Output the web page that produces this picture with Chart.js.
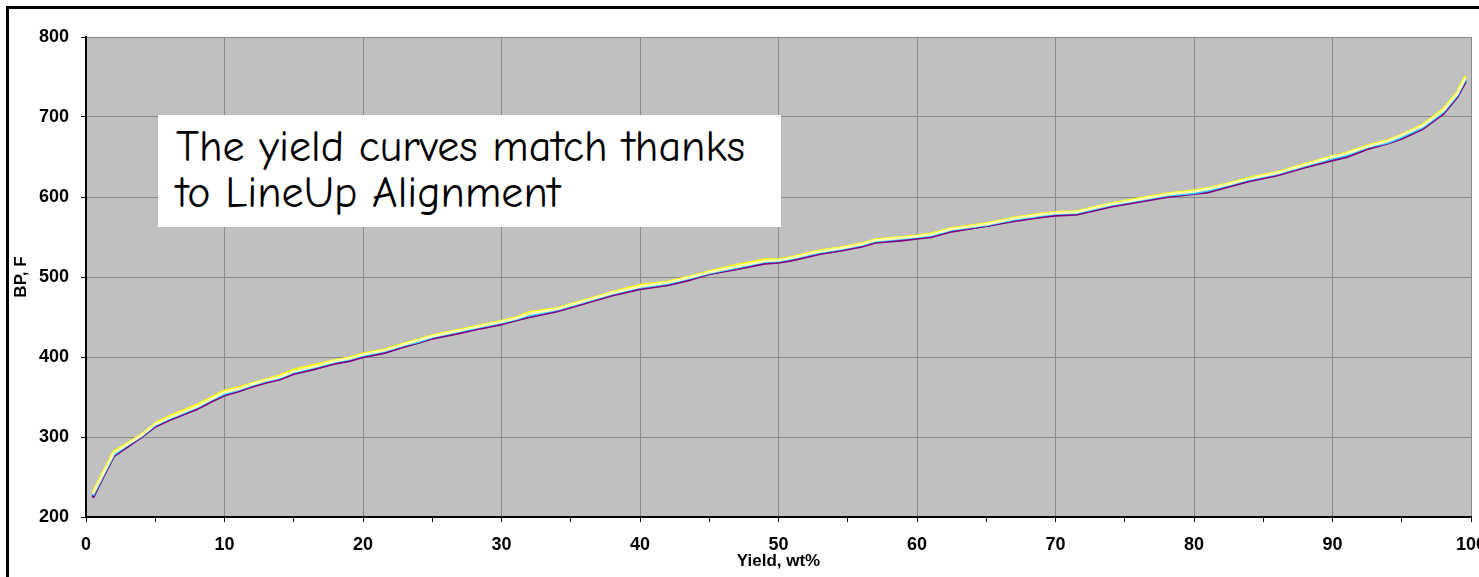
<!DOCTYPE html>
<html>
<head>
<meta charset="utf-8">
<title>BP vs Yield</title>
<script src="https://cdn.jsdelivr.net/npm/chart.js@4.4.1/dist/chart.umd.min.js"></script>
<style>
  html, body { margin: 0; padding: 0; background: #fff; }
  #wrap { position: relative; width: 1479px; height: 577px; overflow: hidden; }
  #frame {
    position: absolute; left: 6px; top: 6px; right: -10px; bottom: -10px;
    border-top: 3px solid #000; border-left: 3px solid #000; pointer-events: none;
  }
  #note {
    position: absolute; left: 158px; top: 115px; width: 623px; height: 112px;
    box-sizing: border-box; background: #fff; padding: 9px 0 0 18px;
    font-family: "Comic Sans MS", "Comic Neue", "Noto Sans", sans-serif;
    font-size: 44px; line-height: 46px; color: #000; white-space: nowrap;
  }
</style>
</head>
<body>
<div id="wrap">
  <canvas id="grafico" width="1479" height="577"></canvas>
  <div id="frame"></div>
  <div id="note">The yield curves match thanks<br>to LineUp Alignment</div>
</div>
<script>
// yield, wt% (shared x values of every curve)
const yieldPct = [0.5, 1, 2, 3, 4, 5, 6, 7, 8, 9,
  10, 11, 12, 13, 14, 15, 16.5, 18, 19, 20,
  21.5, 23, 24, 25, 27, 28, 30, 31, 32, 34,
  36, 38, 40, 42, 43.5, 45, 47, 49, 50, 51,
  53, 54.5, 56, 57, 59, 60, 61, 62.5, 65, 67,
  69, 70, 71.5, 73, 74, 76, 78, 80, 81, 82.5,
  84, 86, 88, 90, 91, 92.5, 94, 95, 96.5, 98,
  99, 99.6];

// boiling point, F
const bpPurple = [224, 242, 276, 288, 300, 313, 321, 328, 335, 344,
  352, 357, 363, 368, 372, 379, 385, 392, 395, 400,
  405, 413, 418, 423, 430, 434, 441, 446, 450, 457,
  467, 477, 485, 490, 496, 504, 510, 517, 518, 521,
  529, 533, 538, 543, 546, 548, 550, 557, 564, 570,
  575, 577, 578, 584, 588, 594, 600, 604, 606, 613,
  620, 627, 637, 646, 650, 660, 667, 673, 685, 704,
  725, 744];

const bpNavy = [225, 243, 277, 289, 300, 314, 322, 329, 336, 345,
  353, 358, 364, 369, 373, 380, 386, 393, 396, 401,
  406, 414, 418, 424, 431, 435, 442, 446, 451, 458,
  468, 478, 486, 491, 497, 504, 511, 518, 519, 522,
  530, 534, 539, 544, 547, 552, 551, 558, 564, 571,
  576, 581, 579, 585, 589, 595, 601, 605, 607, 614,
  621, 628, 638, 647, 651, 661, 668, 674, 686, 705,
  726, 745];

const bpCyan = [227, 244, 278, 290, 301, 315, 323, 330, 337, 346,
  354, 359, 365, 370, 374, 381, 387, 394, 397, 402,
  407, 415, 419, 425, 432, 436, 443, 447, 452, 459,
  469, 479, 487, 492, 498, 505, 512, 519, 520, 523,
  531, 535, 540, 545, 548, 550, 552, 559, 565, 572,
  577, 579, 580, 586, 590, 596, 602, 605, 608, 615,
  622, 629, 639, 648, 652, 662, 668, 675, 687, 706,
  727, 747];

const bpPale = [229, 246, 280, 291, 302, 316, 324, 331, 338, 347,
  356, 360, 366, 371, 375, 382, 388, 395, 398, 403,
  408, 416, 421, 426, 433, 437, 444, 448, 454, 460,
  470, 480, 488, 493, 499, 506, 513, 520, 521, 524,
  532, 536, 541, 546, 549, 551, 553, 560, 566, 573,
  578, 580, 581, 587, 591, 597, 603, 607, 610, 616,
  623, 630, 640, 650, 654, 663, 670, 677, 689, 708,
  729, 749];

const bpYellow = [231, 248, 282, 292, 303, 317, 326, 333, 340, 349,
  358, 362, 367, 372, 377, 384, 390, 396, 399, 404,
  409, 417, 422, 427, 434, 438, 445, 449, 456, 461,
  471, 481, 490, 494, 500, 507, 515, 522, 522, 525,
  533, 537, 542, 547, 550, 552, 554, 561, 567, 574,
  579, 581, 582, 588, 592, 598, 604, 608, 611, 617,
  624, 631, 641, 651, 655, 664, 671, 678, 690, 710,
  731, 751];

const xTicks = [0, 5, 10, 15, 20, 25, 30, 35, 40, 45, 50, 55, 60, 65, 70, 75, 80, 85, 90, 95, 100];
const xLabels = [0, 10, 20, 30, 40, 50, 60, 70, 80, 90, 100];
const yTicks = [200, 300, 400, 500, 600, 700, 800];

const gridGray = "#8a8a8a";

function puntos(valores) {
  return yieldPct.map((x, i) => ({ x: x, y: valores[i] }));
}

// fondo gris del área de trazado
const fondoPlot = {
  id: "fondoPlot",
  beforeDraw(chart) {
    const { ctx, chartArea: a } = chart;
    ctx.save();
    ctx.fillStyle = "#c0c0c0";
    ctx.fillRect(a.left, a.top, a.right - a.left, a.bottom - a.top);
    ctx.restore();
  }
};

Chart.defaults.font.family = '"Liberation Sans", Arial, sans-serif';
Chart.defaults.color = "#000";

// el primer dataset queda encima
const ctx = document.getElementById("grafico").getContext("2d");
new Chart(ctx, {
  type: "line",
  data: {
    datasets: [
      { label: "Pale", data: puntos(bpPale), borderColor: "#ffffb3" },
      { label: "Yellow", data: puntos(bpYellow), borderColor: "#ffff00" },
      { label: "Cyan", data: puntos(bpCyan), borderColor: "#33ccff" },
      { label: "Purple", data: puntos(bpPurple), borderColor: "#800080" },
      { label: "Navy", data: puntos(bpNavy), borderColor: "#000080" }
    ]
  },
  options: {
    responsive: false,
    animation: false,
    devicePixelRatio: 1,
    layout: { padding: { top: 37, right: 8, left: 0, bottom: 0 } },
    elements: {
      line: { borderWidth: 2.5, tension: 0, fill: false },
      point: { radius: 0 }
    },
    plugins: {
      legend: { display: false },
      tooltip: { enabled: false }
    },
    scales: {
      x: {
        type: "linear",
        min: 0,
        max: 100,
        afterBuildTicks: s => { s.ticks = xTicks.map(v => ({ value: v })); },
        afterFit: s => { s.height = 60; s.paddingRight = 0; s.paddingLeft = 0; },
        ticks: {
          autoSkip: false,
          maxRotation: 0,
          padding: 12,
          font: { size: 18, weight: "bold" },
          callback: v => xLabels.includes(v) ? v : ""
        },
        grid: {
          color: c => (c.tick && xLabels.includes(c.tick.value)) ? gridGray : "rgba(0,0,0,0)",
          tickColor: "#000",
          tickLength: 5,
          lineWidth: 1
        },
        border: { color: "#000", width: 2 },
        title: {
          display: true,
          text: "Yield, wt%",
          font: { size: 17, weight: "bold" },
          padding: { top: 0, bottom: 5 }
        }
      },
      y: {
        type: "linear",
        min: 200,
        max: 800,
        afterBuildTicks: s => { s.ticks = yTicks.map(v => ({ value: v })); },
        afterFit: s => { s.width = 86; },
        ticks: {
          padding: 12,
          font: { size: 18, weight: "bold" }
        },
        grid: {
          color: gridGray,
          tickColor: "#000",
          tickLength: 5,
          lineWidth: 1
        },
        border: { color: "#000", width: 2 },
        title: {
          display: true,
          text: "BP, F",
          font: { size: 17, weight: "bold" },
          padding: { top: 11, bottom: 0 }
        }
      }
    }
  },
  plugins: [fondoPlot]
});
</script>
</body>
</html>
